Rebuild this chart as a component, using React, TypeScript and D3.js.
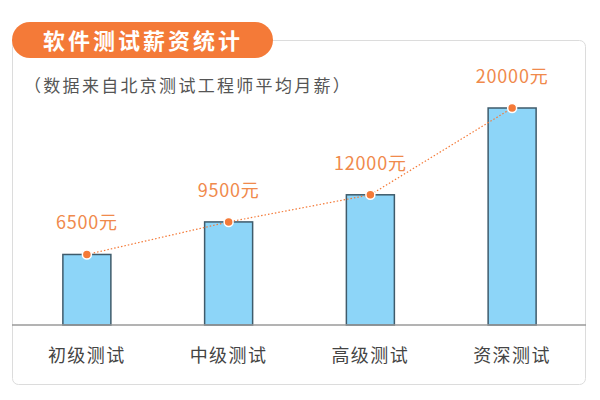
import * as d3 from "d3"

// chart data
const categories = ["初级测试", "中级测试", "高级测试", "资深测试"]
const salaries = [6500, 9500, 12000, 20000]
const valueLabels = ["6500元", "9500元", "12000元", "20000元"]

const title = "软件测试薪资统计"
const subtitle = "（数据来自北京测试工程师平均月薪）"

const W = 600
const H = 400
const font = "'Noto Sans CJK SC', 'Noto Sans', sans-serif"
const orange = "#f47a38"

export default function App() {
  const baseline = 325
  const x = d3.scalePoint<string>().domain(categories).range([16, 583]).padding(0.5)
  const y = d3.scaleLinear().domain([0, 20000]).range([baseline, 108])
  const barW = 48

  const pts: [number, number][] = categories.map((c, i) => [x(c)!, y(salaries[i])])
  const line = d3.line()(pts) || ""

  return (
    <svg width={W} height={H} style={{ position: "absolute", left: 0, top: 0, fontFamily: font }}>
      <rect x={0} y={0} width={W} height={H} fill="#fff" />
      {/* card */}
      <rect x={12.5} y={40.5} width={573} height={344} rx={6} fill="#fff" stroke="#dcdcdc" strokeWidth={1} />
      {/* title pill */}
      <rect x={12} y={22} width={261} height={36} rx={18} fill={orange} />
      <text x={143} y={49} textAnchor="middle" fill="#fff" fontSize={22} fontWeight={600} letterSpacing={3}>
        {title}
      </text>
      <text x={24} y={92} fill="#555" fontSize={17} letterSpacing={2.3}>
        {subtitle}
      </text>

      {/* bars */}
      {categories.map((c, i) => (
        <rect
          key={c}
          x={x(c)! - barW / 2}
          y={y(salaries[i])}
          width={barW}
          height={baseline - y(salaries[i])}
          fill="#8dd5f8"
          stroke="#3f5b6b"
          strokeWidth={1.5}
        />
      ))}

      {/* baseline */}
      <line x1={12} x2={586} y1={baseline} y2={baseline} stroke="#9a9a9a" strokeWidth={1.5} />

      {/* trend line */}
      <path d={line} fill="none" stroke={orange} strokeWidth={1.2} strokeDasharray="1.5,2" />
      {pts.map((p, i) => (
        <circle key={i} cx={p[0]} cy={p[1]} r={4.5} fill={orange} stroke="#fff" strokeWidth={1.5} />
      ))}

      {/* value labels */}
      {categories.map((c, i) => (
        <text
          key={c}
          x={x(c)!}
          y={y(salaries[i]) - 25}
          textAnchor="middle"
          fill="#f08a4c"
          fontSize={18}
          letterSpacing={0.8}
        >
          {valueLabels[i]}
        </text>
      ))}

      {/* category labels */}
      {categories.map((c) => (
        <text key={c} x={x(c)!} y={362} textAnchor="middle" fill="#444" fontSize={18} letterSpacing={1.5}>
          {c}
        </text>
      ))}
    </svg>
  )
}
